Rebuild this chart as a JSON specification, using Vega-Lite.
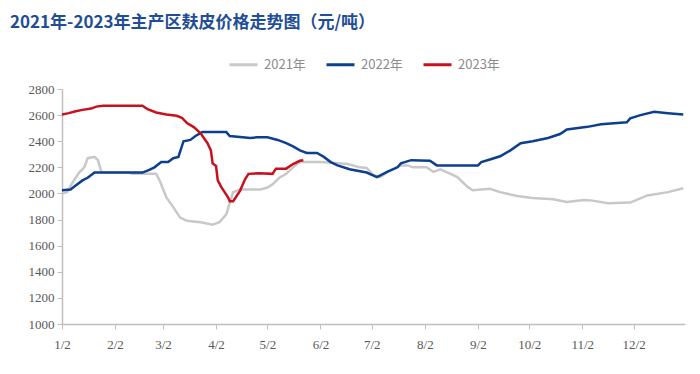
{
  "$schema": "https://vega.github.io/schema/vega-lite/v6.json",
  "width": 623,
  "height": 235,
  "autosize": "none",
  "padding": {"left": 62, "top": 89, "right": 15, "bottom": 50},
  "background": "white",
  "title": {
    "text": "2021年-2023年主产区麸皮价格走势图（元/吨）",
    "anchor": "start",
    "frame": "group",
    "dx": -52,
    "offset": 17,
    "font": "Noto Sans CJK SC",
    "fontSize": 17,
    "fontWeight": "bold",
    "color": "#1F4E96"
  },
  "config": {
    "view": {"stroke": null},
    "axis": {"grid": false}
  },
  "data": {
    "format": {"parse": {"date": "date"}},
    "values": [
      {"year": "2021年", "date": "2022/01/02", "price": 2000},
      {"year": "2021年", "date": "2022/01/05", "price": 2010},
      {"year": "2021年", "date": "2022/01/08", "price": 2080},
      {"year": "2021年", "date": "2022/01/12", "price": 2160},
      {"year": "2021年", "date": "2022/01/15", "price": 2200},
      {"year": "2021年", "date": "2022/01/17", "price": 2270},
      {"year": "2021年", "date": "2022/01/21", "price": 2280},
      {"year": "2021年", "date": "2022/01/23", "price": 2255},
      {"year": "2021年", "date": "2022/01/25", "price": 2165},
      {"year": "2021年", "date": "2022/01/27", "price": 2160},
      {"year": "2021年", "date": "2022/02/10", "price": 2160},
      {"year": "2021年", "date": "2022/02/12", "price": 2150},
      {"year": "2021年", "date": "2022/02/26", "price": 2150},
      {"year": "2021年", "date": "2022/02/28", "price": 2100},
      {"year": "2021年", "date": "2022/03/04", "price": 1970},
      {"year": "2021年", "date": "2022/03/08", "price": 1895},
      {"year": "2021年", "date": "2022/03/12", "price": 1815},
      {"year": "2021年", "date": "2022/03/16", "price": 1790},
      {"year": "2021年", "date": "2022/03/24", "price": 1780},
      {"year": "2021年", "date": "2022/03/31", "price": 1760},
      {"year": "2021年", "date": "2022/04/04", "price": 1780},
      {"year": "2021年", "date": "2022/04/08", "price": 1840},
      {"year": "2021年", "date": "2022/04/10", "price": 1930},
      {"year": "2021年", "date": "2022/04/12", "price": 2010},
      {"year": "2021年", "date": "2022/04/16", "price": 2030},
      {"year": "2021年", "date": "2022/04/28", "price": 2030},
      {"year": "2021年", "date": "2022/05/02", "price": 2045},
      {"year": "2021年", "date": "2022/05/05", "price": 2070},
      {"year": "2021年", "date": "2022/05/09", "price": 2120},
      {"year": "2021年", "date": "2022/05/13", "price": 2150},
      {"year": "2021年", "date": "2022/05/17", "price": 2200},
      {"year": "2021年", "date": "2022/05/21", "price": 2240},
      {"year": "2021年", "date": "2022/06/02", "price": 2240},
      {"year": "2021年", "date": "2022/06/09", "price": 2235},
      {"year": "2021年", "date": "2022/06/18", "price": 2225},
      {"year": "2021年", "date": "2022/06/25", "price": 2200},
      {"year": "2021年", "date": "2022/06/29", "price": 2195},
      {"year": "2021年", "date": "2022/07/03", "price": 2140},
      {"year": "2021年", "date": "2022/07/07", "price": 2125},
      {"year": "2021年", "date": "2022/07/11", "price": 2165},
      {"year": "2021年", "date": "2022/07/19", "price": 2215},
      {"year": "2021年", "date": "2022/07/23", "price": 2215},
      {"year": "2021年", "date": "2022/07/26", "price": 2200},
      {"year": "2021年", "date": "2022/08/03", "price": 2200},
      {"year": "2021年", "date": "2022/08/07", "price": 2165},
      {"year": "2021年", "date": "2022/08/11", "price": 2185},
      {"year": "2021年", "date": "2022/08/17", "price": 2150},
      {"year": "2021年", "date": "2022/08/21", "price": 2125},
      {"year": "2021年", "date": "2022/08/27", "price": 2050},
      {"year": "2021年", "date": "2022/08/30", "price": 2025},
      {"year": "2021年", "date": "2022/09/09", "price": 2035},
      {"year": "2021年", "date": "2022/09/15", "price": 2010},
      {"year": "2021年", "date": "2022/09/25", "price": 1980},
      {"year": "2021年", "date": "2022/10/04", "price": 1965},
      {"year": "2021年", "date": "2022/10/16", "price": 1955},
      {"year": "2021年", "date": "2022/10/24", "price": 1935},
      {"year": "2021年", "date": "2022/11/03", "price": 1950},
      {"year": "2021年", "date": "2022/11/08", "price": 1945},
      {"year": "2021年", "date": "2022/11/17", "price": 1925},
      {"year": "2021年", "date": "2022/11/30", "price": 1930},
      {"year": "2021年", "date": "2022/12/10", "price": 1985},
      {"year": "2021年", "date": "2022/12/22", "price": 2010},
      {"year": "2021年", "date": "2022/12/31", "price": 2040},
      {"year": "2022年", "date": "2022/01/02", "price": 2025},
      {"year": "2022年", "date": "2022/01/07", "price": 2030},
      {"year": "2022年", "date": "2022/01/10", "price": 2060},
      {"year": "2022年", "date": "2022/01/14", "price": 2100},
      {"year": "2022年", "date": "2022/01/17", "price": 2120},
      {"year": "2022年", "date": "2022/01/21", "price": 2160},
      {"year": "2022年", "date": "2022/02/18", "price": 2160},
      {"year": "2022年", "date": "2022/02/22", "price": 2180},
      {"year": "2022年", "date": "2022/02/25", "price": 2200},
      {"year": "2022年", "date": "2022/03/01", "price": 2240},
      {"year": "2022年", "date": "2022/03/05", "price": 2240},
      {"year": "2022年", "date": "2022/03/08", "price": 2270},
      {"year": "2022年", "date": "2022/03/11", "price": 2280},
      {"year": "2022年", "date": "2022/03/14", "price": 2400},
      {"year": "2022年", "date": "2022/03/18", "price": 2410},
      {"year": "2022年", "date": "2022/03/21", "price": 2440},
      {"year": "2022年", "date": "2022/03/25", "price": 2470},
      {"year": "2022年", "date": "2022/04/08", "price": 2470},
      {"year": "2022年", "date": "2022/04/10", "price": 2440},
      {"year": "2022年", "date": "2022/04/22", "price": 2425},
      {"year": "2022年", "date": "2022/04/26", "price": 2430},
      {"year": "2022年", "date": "2022/05/02", "price": 2430},
      {"year": "2022年", "date": "2022/05/08", "price": 2410},
      {"year": "2022年", "date": "2022/05/13", "price": 2385},
      {"year": "2022年", "date": "2022/05/17", "price": 2360},
      {"year": "2022年", "date": "2022/05/21", "price": 2330},
      {"year": "2022年", "date": "2022/05/25", "price": 2310},
      {"year": "2022年", "date": "2022/05/31", "price": 2310},
      {"year": "2022年", "date": "2022/06/04", "price": 2280},
      {"year": "2022年", "date": "2022/06/08", "price": 2240},
      {"year": "2022年", "date": "2022/06/12", "price": 2215},
      {"year": "2022年", "date": "2022/06/19", "price": 2185},
      {"year": "2022年", "date": "2022/06/29", "price": 2160},
      {"year": "2022年", "date": "2022/07/05", "price": 2125},
      {"year": "2022年", "date": "2022/07/11", "price": 2165},
      {"year": "2022年", "date": "2022/07/17", "price": 2200},
      {"year": "2022年", "date": "2022/07/19", "price": 2230},
      {"year": "2022年", "date": "2022/07/25", "price": 2255},
      {"year": "2022年", "date": "2022/08/05", "price": 2250},
      {"year": "2022年", "date": "2022/08/09", "price": 2215},
      {"year": "2022年", "date": "2022/09/02", "price": 2215},
      {"year": "2022年", "date": "2022/09/04", "price": 2240},
      {"year": "2022年", "date": "2022/09/09", "price": 2260},
      {"year": "2022年", "date": "2022/09/15", "price": 2285},
      {"year": "2022年", "date": "2022/09/21", "price": 2330},
      {"year": "2022年", "date": "2022/09/27", "price": 2385},
      {"year": "2022年", "date": "2022/10/04", "price": 2400},
      {"year": "2022年", "date": "2022/10/13", "price": 2425},
      {"year": "2022年", "date": "2022/10/20", "price": 2455},
      {"year": "2022年", "date": "2022/10/24", "price": 2490},
      {"year": "2022年", "date": "2022/11/05", "price": 2510},
      {"year": "2022年", "date": "2022/11/13", "price": 2530},
      {"year": "2022年", "date": "2022/11/28", "price": 2545},
      {"year": "2022年", "date": "2022/11/30", "price": 2575},
      {"year": "2022年", "date": "2022/12/06", "price": 2600},
      {"year": "2022年", "date": "2022/12/14", "price": 2625},
      {"year": "2022年", "date": "2022/12/22", "price": 2615},
      {"year": "2022年", "date": "2022/12/31", "price": 2605},
      {"year": "2023年", "date": "2022/01/02", "price": 2605},
      {"year": "2023年", "date": "2022/01/06", "price": 2615},
      {"year": "2023年", "date": "2022/01/10", "price": 2630},
      {"year": "2023年", "date": "2022/01/14", "price": 2640},
      {"year": "2023年", "date": "2022/01/19", "price": 2650},
      {"year": "2023年", "date": "2022/01/22", "price": 2665},
      {"year": "2023年", "date": "2022/01/26", "price": 2672},
      {"year": "2023年", "date": "2022/02/18", "price": 2672},
      {"year": "2023年", "date": "2022/02/21", "price": 2645},
      {"year": "2023年", "date": "2022/02/26", "price": 2620},
      {"year": "2023年", "date": "2022/03/04", "price": 2605},
      {"year": "2023年", "date": "2022/03/10", "price": 2595},
      {"year": "2023年", "date": "2022/03/13", "price": 2580},
      {"year": "2023年", "date": "2022/03/16", "price": 2540},
      {"year": "2023年", "date": "2022/03/20", "price": 2508},
      {"year": "2023年", "date": "2022/03/24", "price": 2460},
      {"year": "2023年", "date": "2022/03/28", "price": 2385},
      {"year": "2023年", "date": "2022/03/30", "price": 2330},
      {"year": "2023年", "date": "2022/03/31", "price": 2230},
      {"year": "2023年", "date": "2022/04/02", "price": 2210},
      {"year": "2023年", "date": "2022/04/03", "price": 2100},
      {"year": "2023年", "date": "2022/04/05", "price": 2050},
      {"year": "2023年", "date": "2022/04/09", "price": 1970},
      {"year": "2023年", "date": "2022/04/10", "price": 1940},
      {"year": "2023年", "date": "2022/04/12", "price": 1940},
      {"year": "2023年", "date": "2022/04/16", "price": 2020},
      {"year": "2023年", "date": "2022/04/19", "price": 2110},
      {"year": "2023年", "date": "2022/04/21", "price": 2150},
      {"year": "2023年", "date": "2022/04/27", "price": 2155},
      {"year": "2023年", "date": "2022/05/05", "price": 2150},
      {"year": "2023年", "date": "2022/05/07", "price": 2190},
      {"year": "2023年", "date": "2022/05/13", "price": 2190},
      {"year": "2023年", "date": "2022/05/17", "price": 2225},
      {"year": "2023年", "date": "2022/05/21", "price": 2250},
      {"year": "2023年", "date": "2022/05/23", "price": 2255}
    ]
  },
  "mark": {"type": "line", "strokeWidth": 2.5, "clip": true},
  "encoding": {
    "x": {
      "field": "date",
      "type": "temporal",
      "scale": {
        "domain": [
          {"year": 2022, "month": 1, "date": 2},
          {"year": 2023, "month": 1, "date": 1}
        ]
      },
      "axis": {
        "title": null,
        "values": [
          {"year": 2022, "month": 1, "date": 2},
          {"year": 2022, "month": 2, "date": 2},
          {"year": 2022, "month": 3, "date": 2},
          {"year": 2022, "month": 4, "date": 2},
          {"year": 2022, "month": 5, "date": 2},
          {"year": 2022, "month": 6, "date": 2},
          {"year": 2022, "month": 7, "date": 2},
          {"year": 2022, "month": 8, "date": 2},
          {"year": 2022, "month": 9, "date": 2},
          {"year": 2022, "month": 10, "date": 2},
          {"year": 2022, "month": 11, "date": 2},
          {"year": 2022, "month": 12, "date": 2}
        ],
        "format": "%-m/%-d",
        "labelFont": "Liberation Serif",
        "labelFontSize": 13,
        "labelColor": "#595959",
        "labelPadding": 9,
        "domainColor": "#BFBFBF",
        "domainWidth": 1.5,
        "tickColor": "#BFBFBF",
        "tickSize": 5,
        "labelFlush": false,
        "labelOverlap": false
      }
    },
    "y": {
      "field": "price",
      "type": "quantitative",
      "scale": {"domain": [1000, 2800], "nice": false, "zero": false},
      "axis": {
        "title": null,
        "values": [1000, 1200, 1400, 1600, 1800, 2000, 2200, 2400, 2600, 2800],
        "format": "d",
        "labelFont": "Liberation Serif",
        "labelFontSize": 13,
        "labelColor": "#595959",
        "labelPadding": 3,
        "domainColor": "#BFBFBF",
        "domainWidth": 1.5,
        "tickColor": "#BFBFBF",
        "tickSize": 5
      }
    },
    "color": {
      "field": "year",
      "type": "nominal",
      "scale": {
        "domain": ["2021年", "2022年", "2023年"],
        "range": ["#C8C8C8", "#0D3F8F", "#C8101E"]
      },
      "legend": {
        "title": null,
        "orient": "none",
        "direction": "horizontal",
        "legendX": 166,
        "legendY": -40,
        "symbolType": "stroke",
        "symbolSize": 784,
        "symbolStrokeWidth": 3,
        "labelFont": "Noto Sans CJK SC",
        "labelFontSize": 13,
        "labelColor": "#8C8C8C",
        "columnPadding": 14,
        "labelOffset": 5
      }
    }
  }
}
